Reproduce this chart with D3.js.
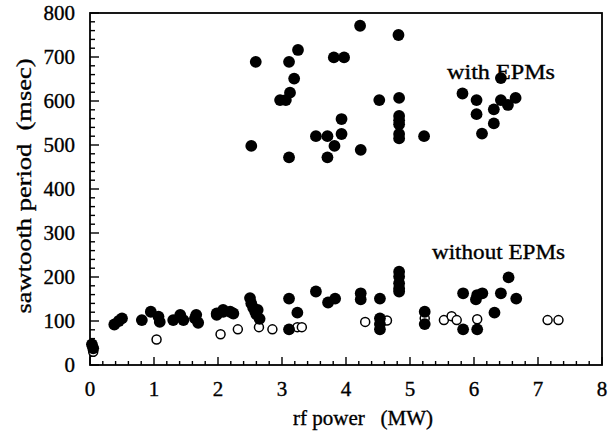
<!DOCTYPE html>
<html><head><meta charset="utf-8">
<script src="https://cdn.jsdelivr.net/npm/d3@7"></script>
<style>
html,body{margin:0;padding:0;background:#fff;}
svg{display:block;}
text{font-family:"Liberation Serif","Times New Roman",serif;fill:#000;stroke:#000;stroke-width:0.35;}
</style></head>
<body>
<svg id="chart" width="611" height="432"></svg>
<script>
// Filled circles: with / without EPMs (x = rf power MW, y = sawtooth period msec)
const filledX = [4.22,4.82,3.25,2.59,3.11,3.81,3.97,3.19,3.125,2.97,3.06,4.52,4.83,4.83,4.83,4.83,4.83,4.83,3.93,3.93,3.53,3.71,3.82,5.22,2.52,3.11,3.71,4.23,
  6.42,5.82,6.04,6.42,6.65,6.53,6.31,6.04,6.31,6.125,
  0.03,0.05,0.38,0.45,0.5,0.81,0.95,1.07,1.09,1.30,1.41,1.46,1.64,1.66,1.69,1.98,2.08,1.98,2.08,2.19,2.24,
  2.5,2.52,2.55,2.58,2.6,2.62,2.65,3.11,3.24,3.11,3.53,3.72,3.83,4.23,4.23,4.53,4.53,4.53,4.53,
  4.83,4.83,4.83,4.83,4.83,5.23,5.23,5.83,5.83,6.05,6.13,6.03,6.05,6.32,6.42,6.54,6.66];
const filledY = [771,750,716,689,689,699,699,651,619,602,602,602,607,566,556,547,525,515,559,525,520,520,498,520,498,472,472,489,
  652,617,602,602,607,591,581,570,549,526,
  47,38,92,100,106,102,121,110,98,102,114,102,106,114,96,114,121,117,125,121,117,
  152,140,130,122,115,125,105,151,119,81,167,142,151,163,149,151,106,93,81,
  212,201,186,174,167,121,93,163,81,159,163,149,81,119,163,199,151];
// Open circles
const openX = [0.05,1.04,2.04,2.31,2.64,2.85,3.24,3.31,4.30,4.64,5.23,5.53,5.65,5.73,6.05,7.15,7.32];
const openY = [30,58,70,81,86,81,86,86,98,101,106,102,111,102,104,102,102];
const xTicks = [0,1,2,3,4,5,6,7,8];
const yTicks = [0,100,200,300,400,500,600,700,800];
const labels = {x:"rf power   (MW)", y:"sawtooth period  (msec)", with:"with EPMs", without:"without EPMs"};

const svg = d3.select("#chart");
const L=90,R=602,T=13,B=365;
const x = d3.scaleLinear().domain([0,8]).range([L,R]);
const y = d3.scaleLinear().domain([0,800]).range([B,T]);

// minor / major ticks (inward)
const g = svg.append("g");
const xMinor = d3.range(0,8.0001,0.2);
g.selectAll(".xt").data(xMinor).join("line")
  .attr("x1",d=>x(d)).attr("x2",d=>x(d))
  .attr("y1",B).attr("y2",d=>B-(Math.abs(d-Math.round(d))<1e-6?8:4))
  .attr("stroke","#000").attr("stroke-width",1.4);
const yMinor = d3.range(0,800.001,20);
g.selectAll(".yt").data(yMinor).join("line")
  .attr("y1",d=>y(d)).attr("y2",d=>y(d))
  .attr("x1",L).attr("x2",d=>L+(d%100===0?9:5))
  .attr("stroke","#000").attr("stroke-width",1.4);

// frame
svg.append("rect").attr("x",L).attr("y",T).attr("width",R-L).attr("height",B-T)
  .attr("fill","none").attr("stroke","#000").attr("stroke-width",1.8);

// tick labels
svg.selectAll(".xl").data(xTicks).join("text")
  .attr("x",d=>x(d)).attr("y",396).attr("text-anchor","middle")
  .attr("font-size",21).text(d=>d);
svg.selectAll(".yl").data(yTicks).join("text")
  .attr("x",75).attr("y",d=>y(d)+7).attr("text-anchor","end")
  .attr("font-size",21).text(d=>d);

// axis titles
svg.append("text").attr("x",363).attr("y",425).attr("text-anchor","middle")
  .attr("font-size",21).style("white-space","pre").text(labels.x);
svg.append("text").attr("transform","translate(31,186) rotate(-90)")
  .attr("text-anchor","middle").attr("font-size",22).style("white-space","pre")
  .attr("textLength",255).attr("lengthAdjust","spacingAndGlyphs").text(labels.y);

// annotations
svg.append("text").attr("x",447).attr("y",79).attr("font-size",21)
  .attr("textLength",108).attr("lengthAdjust","spacingAndGlyphs").text(labels.with);
svg.append("text").attr("x",432).attr("y",259).attr("font-size",21)
  .attr("textLength",133).attr("lengthAdjust","spacingAndGlyphs").text(labels.without);

// points
const filled = filledX.map((v,i)=>({x:v,y:filledY[i]}));
const open = openX.map((v,i)=>({x:v,y:openY[i]}));
svg.append("g").selectAll("circle").data(open).join("circle")
  .attr("cx",d=>x(d.x)).attr("cy",d=>y(d.y)).attr("r",4.5)
  .attr("fill","#fff").attr("stroke","#000").attr("stroke-width",1.5);
svg.append("g").selectAll("circle").data(filled).join("circle")
  .attr("cx",d=>x(d.x)).attr("cy",d=>y(d.y)).attr("r",5.9)
  .attr("fill","#000");
</script>
</body></html>
